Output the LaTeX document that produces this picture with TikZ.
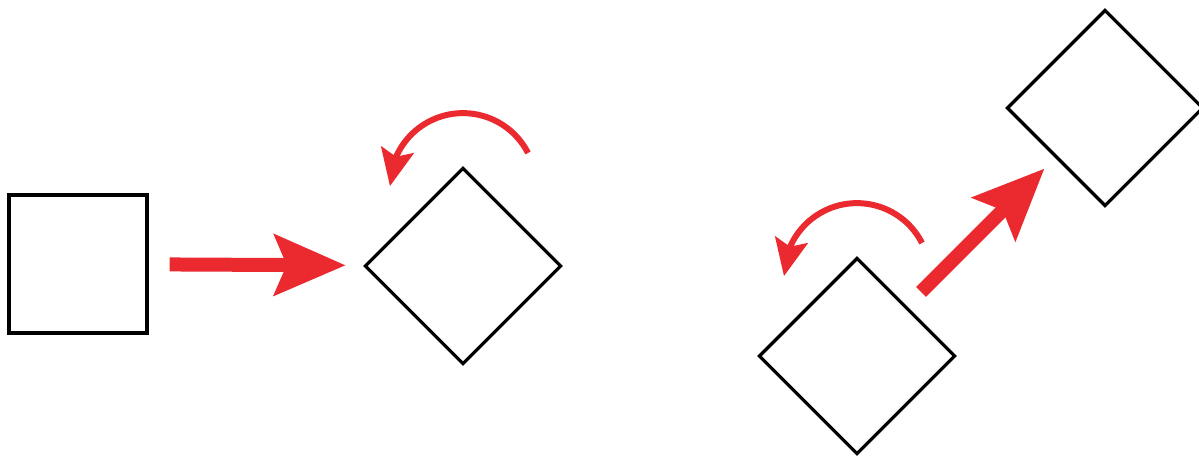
\documentclass[tikz,border=0pt]{standalone}
\usetikzlibrary{arrows.meta, bending}
\definecolor{motionred}{RGB}{234,42,47}

\begin{document}
\begin{tikzpicture}[x=0.02cm, y=-0.02cm,
  tile/.style={draw, line width=0.065cm, minimum size=2.76cm, inner sep=0pt},
  push/.style={draw=motionred, line width=0.28cm,
    -{Stealth[length=1.42cm, width=1.2cm, inset=0.24cm]}},
  turn/.style={draw=motionred, line width=0.12cm,
    -{Stealth[length=0.74cm, width=0.66cm, inset=0.14cm, flex]}}]
  \useasboundingbox (0,0) rectangle (1199,459);

  % squares
  \node (box)  [tile] at (78,264) {};
  \node (tilt) [tile, rotate=45] at (463,266) {};
  \node (low)  [tile, rotate=45] at (857,356) {};
  \node (high) [tile, rotate=45] at (1105,108) {};

  % moves
  \draw[push, shorten <=0.42cm, shorten >=0.36cm] (box) -- (tilt);
  \draw[push, shorten <=0.40cm, shorten >=0.30cm] (low) -- (high);

  % turns
  \draw[turn] ([shift={(65,-113)}]tilt.center) arc[start angle=-27, end angle=-180, radius=73];
  \draw[turn] ([shift={(65,-113)}]low.center) arc[start angle=-27, end angle=-180, radius=73];
\end{tikzpicture}
\end{document}
